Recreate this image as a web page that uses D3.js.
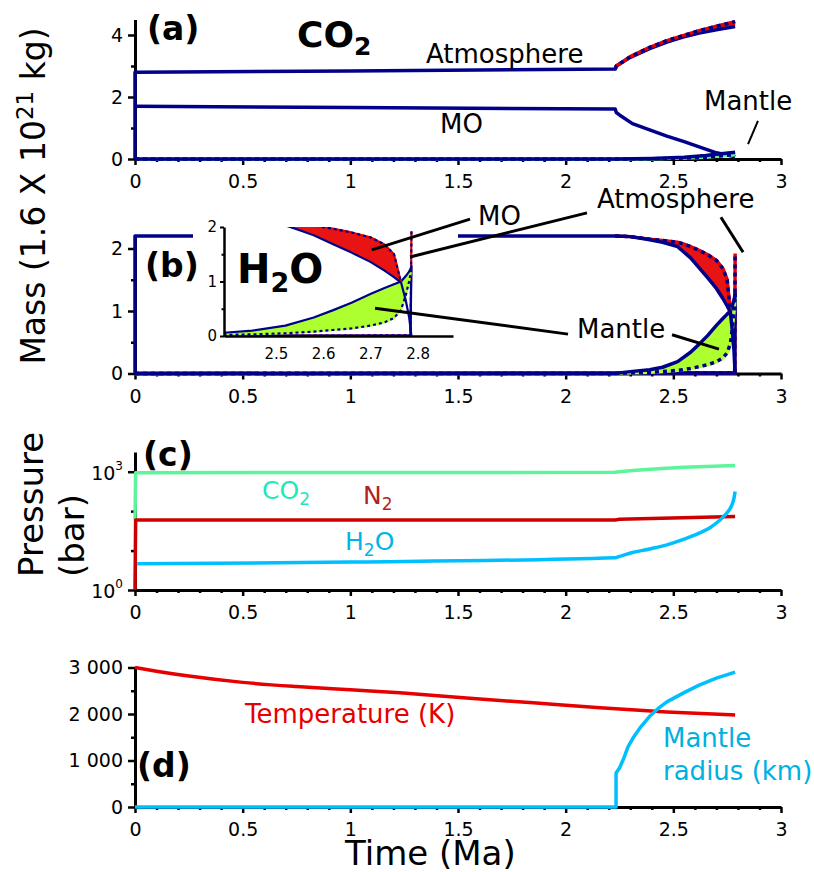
<!DOCTYPE html>
<html>
<head>
<meta charset="utf-8">
<script src="https://cdn.jsdelivr.net/npm/d3@7"></script>
<style>
  body { margin: 0; background: #fff; }
  text { font-family: "DejaVu Sans", sans-serif; }
</style>
</head>
<body>
<script>
// ---- data (time in Ma) ----
// x ticks every 0.1 Ma, labelled every 0.5
const timeTicks = d3.range(0, 31).map(i => i / 10)

// (a) CO2 mass, 1.6e21 kg. bands are [t, low, high]
const co2AtmStart = [[0, 0], [0, 2.8], [1.0, 2.84], [2.23, 2.9]]
const co2AtmBand = [[2.23, 2.9, 2.9], [2.235, 3.0, 3.0], [2.30, 3.28, 3.3], [2.39, 3.56, 3.6], [2.47, 3.77, 3.82],
  [2.545, 3.93, 3.98], [2.62, 4.06, 4.14], [2.70, 4.17, 4.28], [2.787, 4.27, 4.43]]
const co2Mo = [[0, 1.7], [1.0, 1.66], [2.23, 1.61], [2.235, 1.5], [2.25, 1.42], [2.31, 1.14], [2.39, 0.94],
  [2.47, 0.74], [2.55, 0.56], [2.62, 0.39], [2.70, 0.2], [2.787, 0.07]]
const co2MantleBand = [[0, 0, 0], [2.23, 0, 0], [2.40, 0.01, 0.02], [2.55, 0.03, 0.06], [2.65, 0.06, 0.11],
  [2.70, 0.09, 0.15], [2.787, 0.14, 0.22]]

// (b) H2O mass
const h2oMoStart = [[0, 0], [0, 2.2], [2.23, 2.2]]
const h2oMoBand = [[2.23, 2.2, 2.2], [2.30, 2.19, 2.19], [2.39, 2.14, 2.15], [2.45, 2.10, 2.13], [2.52, 2.03, 2.10],
  [2.55, 1.94, 2.07], [2.58, 1.85, 2.03], [2.62, 1.69, 1.97], [2.66, 1.53, 1.90], [2.70, 1.36, 1.81],
  [2.73, 1.20, 1.68], [2.75, 1.08, 1.50], [2.765, 0.98, 0.98]]
const h2oMoTail = [[2.765, 0.98], [2.775, 0.65], [2.782, 0.35], [2.787, 0]]
const h2oMantleBand = [[0, 0, 0], [2.23, 0, 0], [2.30, 0.01, 0.03], [2.39, 0.02, 0.06], [2.45, 0.03, 0.10],
  [2.52, 0.05, 0.19], [2.58, 0.08, 0.34], [2.62, 0.11, 0.47], [2.66, 0.14, 0.61], [2.70, 0.19, 0.77],
  [2.73, 0.25, 0.88], [2.75, 0.33, 0.95], [2.765, 0.48, 1.0], [2.775, 0.75, 1.1], [2.782, 1.0, 1.18],
  [2.787, 1.22, 1.27]]
const h2oAtmSolid = [[0, 0], [2.785, 0.01], [2.787, 1.3]]
const h2oAtmDotted = [[0, 0], [2.785, 0.01], [2.787, 1.92]]

// (c) partial pressures, bar
const pCo2 = [[0, 60], [0.003, 948], [1, 955], [2.23, 965], [2.25, 1000], [2.31, 1080], [2.45, 1200],
  [2.55, 1290], [2.787, 1430]]
const pN2 = [[0, 1], [0.003, 60], [2.23, 60], [2.25, 62], [2.787, 73]]
const pH2o = [[0.01, 4.6], [1, 5.1], [2.23, 6.6], [2.25, 7.1], [2.31, 8.9], [2.39, 11], [2.47, 14], [2.55, 19.5],
  [2.62, 27.6], [2.67, 38], [2.70, 50], [2.73, 70], [2.75, 92], [2.77, 135], [2.78, 195], [2.787, 316]]

// (d) temperature (K) and mantle radius (km)
const temperature = [[0, 3000], [0.1, 2920], [0.25, 2815], [0.5, 2680], [0.75, 2590], [1.0, 2520], [1.23, 2455],
  [1.54, 2345], [1.85, 2240], [2.16, 2135], [2.47, 2045], [2.787, 1980]]
const mantleRadius = [[0, 0], [2.234, 0], [2.234, 730], [2.25, 840], [2.27, 1050], [2.29, 1300], [2.315, 1500],
  [2.35, 1730], [2.39, 1950], [2.43, 2120], [2.47, 2260], [2.55, 2460], [2.62, 2620], [2.70, 2770], [2.787, 2900]]

// leader lines: [[t, v], [t, v]] with the axes each end belongs to
const leaderA = [[2.893, 1.23], [2.847, 0.48]]
const leadersB = [
  {from: [1.556, 2.47], to: [2.703, 1.58], inset: true},   // MO
  {from: [2.099, 2.57], to: [2.784, 1.45], inset: true},   // Atmosphere
  {from: [2.721, 2.50], to: [2.824, 1.94], inset: false},
  {from: [2.011, 0.63], to: [2.71, 0.51], inset: true},    // Mantle
  {from: [2.494, 0.62], to: [2.712, 0.39], inset: false},
]

// ---- colours ----
const navy = '#00008b'
const red = '#e60000'
const lime = '#adff2f'
const mint = '#5cf59a'

const svg = d3.select('body').append('svg').attr('width', 814).attr('height', 872)

const x = d3.scaleLinear().domain([0, 3]).range([135, 781])
const ya = d3.scaleLinear().domain([0, 4.5]).range([159, 19.5])
const yb = d3.scaleLinear().domain([0, 2.2]).range([373.5, 236])
const yc = d3.scaleLog().domain([1, Math.pow(10, 3.5)]).range([590, 452])
const yd = d3.scaleLinear().domain([0, 3000]).range([807, 667.5])
const xi = d3.scaleLinear().domain([2.39, 2.875]).range([224, 453])
const yi = d3.scaleLinear().domain([0, 2]).range([336, 227])

const lineOf = (xs, ys, curve) => d3.line().x(d => xs(d[0])).y(d => ys(d[1])).curve(curve || d3.curveLinear)
const areaOf = (xs, ys) => d3.area().x(d => xs(d[0])).y0(d => ys(d[1])).y1(d => ys(d[2]))
const lo = band => band.map(d => [d[0], d[1]])
const hi = band => band.map(d => [d[0], d[2]])

const solid = (g, data, xs, ys, color, w, curve) =>
  g.append('path').datum(data).attr('d', lineOf(xs, ys, curve))
    .attr('fill', 'none').attr('stroke', color).attr('stroke-width', w)
    .attr('stroke-linejoin', 'round')

// coloured line with navy dashes over it
const dotted = (g, data, xs, ys, under, w, dash) => {
  solid(g, data, xs, ys, under, w)
  solid(g, data, xs, ys, navy, w).attr('stroke-dasharray', dash)
}

const band = (g, data, xs, ys, color, op) =>
  g.append('path').datum(data).attr('d', areaOf(xs, ys)).attr('fill', color).attr('fill-opacity', op)

// ---- axes ----
const major = d => Math.abs(Math.round(d * 10) % 5) === 0
const fmtT = d => String(+d.toFixed(1))

function xAxis(y0) {
  const g = svg.append('g').attr('transform', `translate(0,${y0})`)
    .call(d3.axisBottom(x).tickValues(timeTicks).tickSizeInner(6).tickSizeOuter(0).tickPadding(10)
      .tickFormat(d => major(d) ? fmtT(d) : ''))
  g.selectAll('.tick line').attr('y2', d => major(d) ? 6 : 3).attr('stroke-width', 2.5)
  g.select('.domain').attr('stroke-width', 3)
  g.selectAll('text').attr('font-size', 19).attr('font-family', 'DejaVu Sans')
  return g
}

function yAxis(ys, ticks, labelled, fmt) {
  const g = svg.append('g').attr('transform', 'translate(135,0)')
    .call(d3.axisLeft(ys).tickValues(ticks).tickSizeInner(7).tickSizeOuter(0).tickPadding(5)
      .tickFormat(d => labelled.includes(d) ? fmt(d) : ''))
  g.selectAll('.tick line').attr('x2', d => labelled.includes(d) ? -7 : -4).attr('stroke-width', 2.5)
  g.select('.domain').attr('stroke-width', 3)
  g.selectAll('text').attr('font-size', 19).attr('font-family', 'DejaVu Sans')
  return g
}

xAxis(159); yAxis(ya, [0, 1, 2, 3, 4], [0, 2, 4], String)
xAxis(373.5); yAxis(yb, [0, 0.5, 1, 1.5, 2], [0, 1, 2], String)
xAxis(590)
const gc = yAxis(yc, [1, 10, 100, 1000], [1, 1000], () => '')
gc.selectAll('.tick').filter(d => d === 1 || d === 1000).select('text')
  .each(function (d) {
    const t = d3.select(this).attr('dy', '0.4em')
    t.append('tspan').text('10')
    t.append('tspan').attr('font-size', 12).attr('dy', '-0.85em').text(d === 1 ? '0' : '3')
  })
xAxis(807)
yAxis(yd, [0, 500, 1000, 1500, 2000, 2500, 3000], [0, 1000, 2000, 3000], d => d3.format(',')(d).replace(',', ' '))

// ---- (a) CO2 ----
const ga = svg.append('g')
band(ga, co2AtmBand, x, ya, red, 1)
band(ga, co2MantleBand, x, ya, mint, 1)
solid(ga, co2AtmStart.concat(lo(co2AtmBand)), x, ya, navy, 3.5)
dotted(ga, hi(co2AtmBand), x, ya, red, 3.5, '4,4')
solid(ga, co2Mo, x, ya, navy, 3.5)
dotted(ga, lo(co2MantleBand), x, ya, mint, 3.5, '4,4')
solid(ga, hi(co2MantleBand), x, ya, navy, 3.5)

// ---- (b) H2O, main axes ----
const drawH2o = (g, xs, ys, w, dash) => {
  band(g, h2oMoBand, xs, ys, red, 0.92)
  band(g, h2oMantleBand, xs, ys, lime, 1)
  dotted(g, h2oAtmDotted, xs, ys, red, w, dash)
  solid(g, h2oAtmSolid, xs, ys, navy, w)
  dotted(g, lo(h2oMantleBand), xs, ys, lime, w, dash)
  solid(g, hi(h2oMantleBand), xs, ys, navy, w)
  dotted(g, hi(h2oMoBand), xs, ys, red, w, dash)
  solid(g, h2oMoStart.concat(lo(h2oMoBand), h2oMoTail.slice(1)), xs, ys, navy, w)
}
drawH2o(svg.append('g'), x, yb, 3.5, '4,4')

// inset
svg.append('rect').attr('x', 193).attr('y', 205).attr('width', 265).attr('height', 161).attr('fill', '#fff')
svg.append('clipPath').attr('id', 'inset-clip')
  .append('rect').attr('x', xi.range()[0]).attr('y', yi(2)).attr('width', xi.range()[1] - xi.range()[0])
  .attr('height', yi(0) - yi(2) + 3)
drawH2o(svg.append('g').attr('clip-path', 'url(#inset-clip)'), xi, yi, 2.2, '3,3')

const gix = svg.append('g').attr('transform', `translate(0,${yi(0)})`)
  .call(d3.axisBottom(xi).tickValues([2.5, 2.6, 2.7, 2.8]).tickSize(0).tickPadding(12).tickFormat(d3.format('.1f')))
gix.select('.domain').attr('stroke-width', 2.5)
gix.selectAll('text').attr('font-size', 15).attr('font-family', 'DejaVu Sans')
const giy = svg.append('g').attr('transform', `translate(${xi.range()[0]},0)`)
  .call(d3.axisLeft(yi).tickValues([0, 0.5, 1, 1.5, 2]).tickSizeInner(4).tickSizeOuter(0).tickPadding(3)
    .tickFormat(d => Number.isInteger(d) ? String(d) : ''))
giy.selectAll('.tick line').attr('x2', d => Number.isInteger(d) ? -4 : -2.5).attr('stroke-width', 2)
giy.select('.domain').attr('stroke-width', 2.5)
giy.selectAll('text').attr('font-size', 15).attr('font-family', 'DejaVu Sans')

// ---- (c) pressures ----
const gcl = svg.append('g')
solid(gcl, pCo2, x, yc, mint, 3.5)
solid(gcl, pN2, x, yc, '#cc0000', 3.5)
solid(gcl, pH2o, x, yc, '#00bfff', 3.5, d3.curveMonotoneX)

// ---- (d) temperature and mantle radius ----
const gd = svg.append('g')
solid(gd, temperature, x, yd, red, 3.5, d3.curveMonotoneX)
solid(gd, mantleRadius, x, yd, '#00bfff', 3.5)

// ---- leader lines ----
const leader = d3.line()
svg.append('path').attr('d', leader(leaderA.map(d => [x(d[0]), ya(d[1])])))
  .attr('stroke', '#000').attr('stroke-width', 2)
leadersB.forEach(l => {
  const p0 = [x(l.from[0]), yb(l.from[1])]
  const p1 = l.inset ? [xi(l.to[0]), yi(l.to[1])] : [x(l.to[0]), yb(l.to[1])]
  svg.append('path').attr('d', leader([p0, p1])).attr('stroke', '#000').attr('stroke-width', 3)
})

// ---- text ----
const label = (tx, ty, parts, size, color, weight) => {
  const t = svg.append('text').attr('x', tx).attr('y', ty).attr('font-size', size)
    .attr('fill', color || '#000').attr('font-weight', weight || 'normal')
  parts.forEach(p => {
    if (typeof p === 'string') t.append('tspan').text(p)
    else t.append('tspan').attr('font-size', p.size).attr('dy', p.dy).text(p.text)
  })
  return t
}

label(147, 40, ['(a)'], 33, '#000', 'bold')
label(297, 47, ['CO', {text: '2', size: 25, dy: 8}], 36, '#000', 'bold')
label(426, 63, ['Atmosphere'], 26)
label(440, 133, ['MO'], 26)
label(704, 110, ['Mantle'], 26)

label(145, 277, ['(b)'], 33, '#000', 'bold')
label(237, 283, ['H', {text: '2', size: 27, dy: 9}, {text: 'O', size: 40, dy: -9}], 40, '#000', 'bold')
label(478, 225, ['MO'], 26)
label(597, 208, ['Atmosphere'], 26)
label(577, 338, ['Mantle'], 26)

label(143, 466, ['(c)'], 33, '#000', 'bold')
label(262, 499, ['CO', {text: '2', size: 17, dy: 6}], 25, '#1de9b6')
label(363, 504, ['N', {text: '2', size: 17, dy: 6}], 25, '#b22222')
label(345, 550, ['H', {text: '2', size: 17, dy: 6}, {text: 'O', size: 25, dy: -6}], 25, '#00b4e6')

label(137, 777, ['(d)'], 33, '#000', 'bold')
label(245, 723, ['Temperature (K)'], 26, red)
label(663, 747, ['Mantle'], 26, '#00b0e0')
label(663, 780, ['radius (km)'], 26, '#00b0e0')

label(345, 865, ['Time (Ma)'], 34)

const rot = (tx, ty, parts, size, anchor) =>
  label(0, 0, parts, size).attr('transform', `translate(${tx},${ty}) rotate(-90)`).attr('text-anchor', anchor)

rot(45, 196, ['Mass (1.6 X 10', {text: '21', size: 23, dy: -12}, {text: ' kg)', size: 33, dy: 12}], 33, 'middle')
rot(43, 577, ['Pressure'], 34, 'start')
rot(84, 577, ['(bar)'], 34, 'start')
</script>
</body>
</html>
